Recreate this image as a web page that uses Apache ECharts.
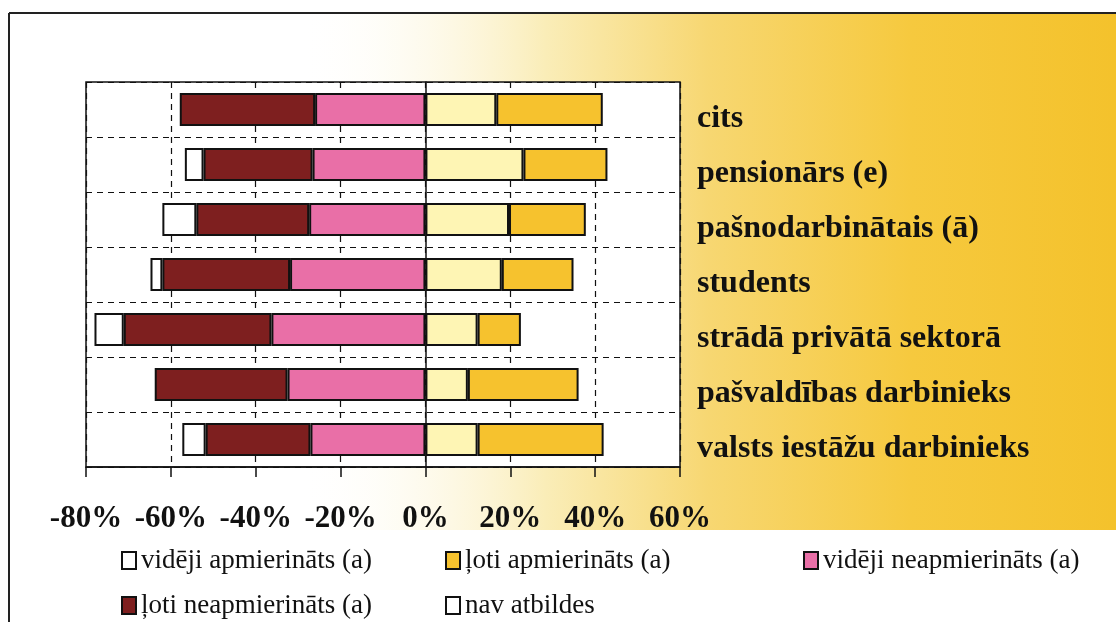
<!DOCTYPE html>
<html>
<head>
<meta charset="utf-8">
<script src="https://cdn.jsdelivr.net/npm/echarts@6/dist/echarts.min.js"></script>
<style>
  html, body { margin: 0; padding: 0; background: #fff; }
  #chart { width: 1116px; height: 622px; }
</style>
</head>
<body>
<div id="chart"></div>
<script>
// kategorijas no augšas uz leju
var categories = ['cits', 'pensionārs (e)', 'pašnodarbinātais (ā)', 'students', 'strādā privātā sektorā', 'pašvaldības darbinieks', 'valsts iestāžu darbinieks']
// negatīvā puse (neapmierinātie), %
var videjiNeapmierinats = [-26.0, -26.6, -27.4, -31.9, -36.3, -32.5, -27.1]
var lotiNeapmierinats = [-31.9, -25.7, -26.6, -30.1, -34.8, -31.3, -24.7]
var navAtbildes = [null, -4.4, -8.0, -2.8, -6.9, null, -5.5]
// pozitīvā puse (apmierinātie), %
var videjiApmierinats = [16.7, 23.1, 19.7, 18.0, 12.3, 10.0, 12.3]
var lotiApmierinats = [25.1, 19.8, 18.1, 16.9, 10.2, 26.1, 29.7]
var xTicks = [-80, -60, -40, -20, 0, 20, 40, 60]

var serif = 'Liberation Serif, Times New Roman, serif'

function bar (name, data, color) {
  return {
    name: name,
    type: 'bar',
    stack: 'kopa',
    data: data,
    barWidth: '60%',
    itemStyle: { color: color, borderColor: '#111', borderWidth: 2 },
    emphasis: { disabled: true }
  }
}

// katrs leģendas ieraksts atsevišķi, lai kolonnas sakristu
function legendItem (left, top, name, color) {
  var item = { name: name }
  if (color) item.itemStyle = { color: color }
  return {
    left: left,
    top: top,
    icon: 'rect',
    itemWidth: 14,
    itemHeight: 17,
    selectedMode: false,
    data: [item],
    textStyle: { fontFamily: serif, fontSize: 27, color: '#111' }
  }
}

var myChart = echarts.init(document.getElementById('chart'))
myChart.setOption({
  backgroundColor: '#fff',
  animation: false,
  graphic: [
    {
      type: 'rect', z: -10, silent: true,
      shape: { x: 300, y: 14, width: 816, height: 516 },
      style: {
        fill: new echarts.graphic.LinearGradient(0, 0, 1, 0, [
          { offset: 0, color: 'rgba(255,255,255,0)' },
          { offset: 0.3, color: '#FAEDB8' },
          { offset: 0.5, color: '#F7D772' },
          { offset: 0.75, color: '#F6C93E' },
          { offset: 1, color: '#F4C22C' }
        ])
      }
    },
    { type: 'line', z: -5, silent: true, shape: { x1: 9, y1: 13, x2: 1116, y2: 13 }, style: { stroke: '#222', lineWidth: 2 } },
    { type: 'line', z: -5, silent: true, shape: { x1: 9, y1: 13, x2: 9, y2: 622 }, style: { stroke: '#222', lineWidth: 2 } }
  ],
  grid: {
    left: 86, right: 436, top: 82, bottom: 155,
    show: true, backgroundColor: '#fff', borderColor: '#111', borderWidth: 1.5
  },
  legend: [
    legendItem(116, 542, 'vidēji apmierināts (a)', '#FFFFFF'),
    legendItem(440, 542, 'ļoti apmierināts (a)'),
    legendItem(798, 542, 'vidēji neapmierināts (a)'),
    legendItem(116, 587, 'ļoti neapmierināts (a)'),
    legendItem(440, 587, 'nav atbildes')
  ],
  xAxis: {
    type: 'value',
    min: xTicks[0],
    max: xTicks[xTicks.length - 1],
    interval: 20,
    axisLine: { show: true, lineStyle: { color: '#111', width: 1.5 } },
    axisTick: { show: true, length: 10, lineStyle: { color: '#111', width: 1.5 } },
    axisLabel: {
      margin: 36,
      formatter: '{value}%',
      fontFamily: serif, fontWeight: 'bold', fontSize: 31, color: '#111'
    },
    splitLine: { show: true, lineStyle: { color: '#111', type: [6, 5], width: 1.2 } }
  },
  yAxis: [
    {
      type: 'category',
      data: categories,
      inverse: true,
      position: 'left',
      axisLine: { show: true, onZero: true, lineStyle: { color: '#111', width: 1.5 } },
      axisTick: { show: false },
      axisLabel: { show: false },
      splitLine: { show: true, lineStyle: { color: '#111', type: [6, 5], width: 1.2 } }
    },
    {
      type: 'category',
      data: categories,
      inverse: true,
      position: 'right',
      axisLine: { show: false },
      axisTick: { show: false },
      splitLine: { show: false },
      axisLabel: {
        margin: 17,
        // tukša pirmā rinda nobīda uzrakstu nedaudz uz leju
        formatter: function (v) { return '\n' + v },
        lineHeight: 18,
        fontFamily: serif, fontWeight: 'bold', fontSize: 32, color: '#111'
      }
    }
  ],
  series: [
    bar('vidēji neapmierināts (a)', videjiNeapmierinats, '#E96FA7'),
    bar('ļoti neapmierināts (a)', lotiNeapmierinats, '#7E1F1F'),
    bar('nav atbildes', navAtbildes, '#FFFFFF'),
    bar('vidēji apmierināts (a)', videjiApmierinats, '#FEF5B4'),
    bar('ļoti apmierināts (a)', lotiApmierinats, '#F6C22E')
  ]
})
</script>
</body>
</html>
